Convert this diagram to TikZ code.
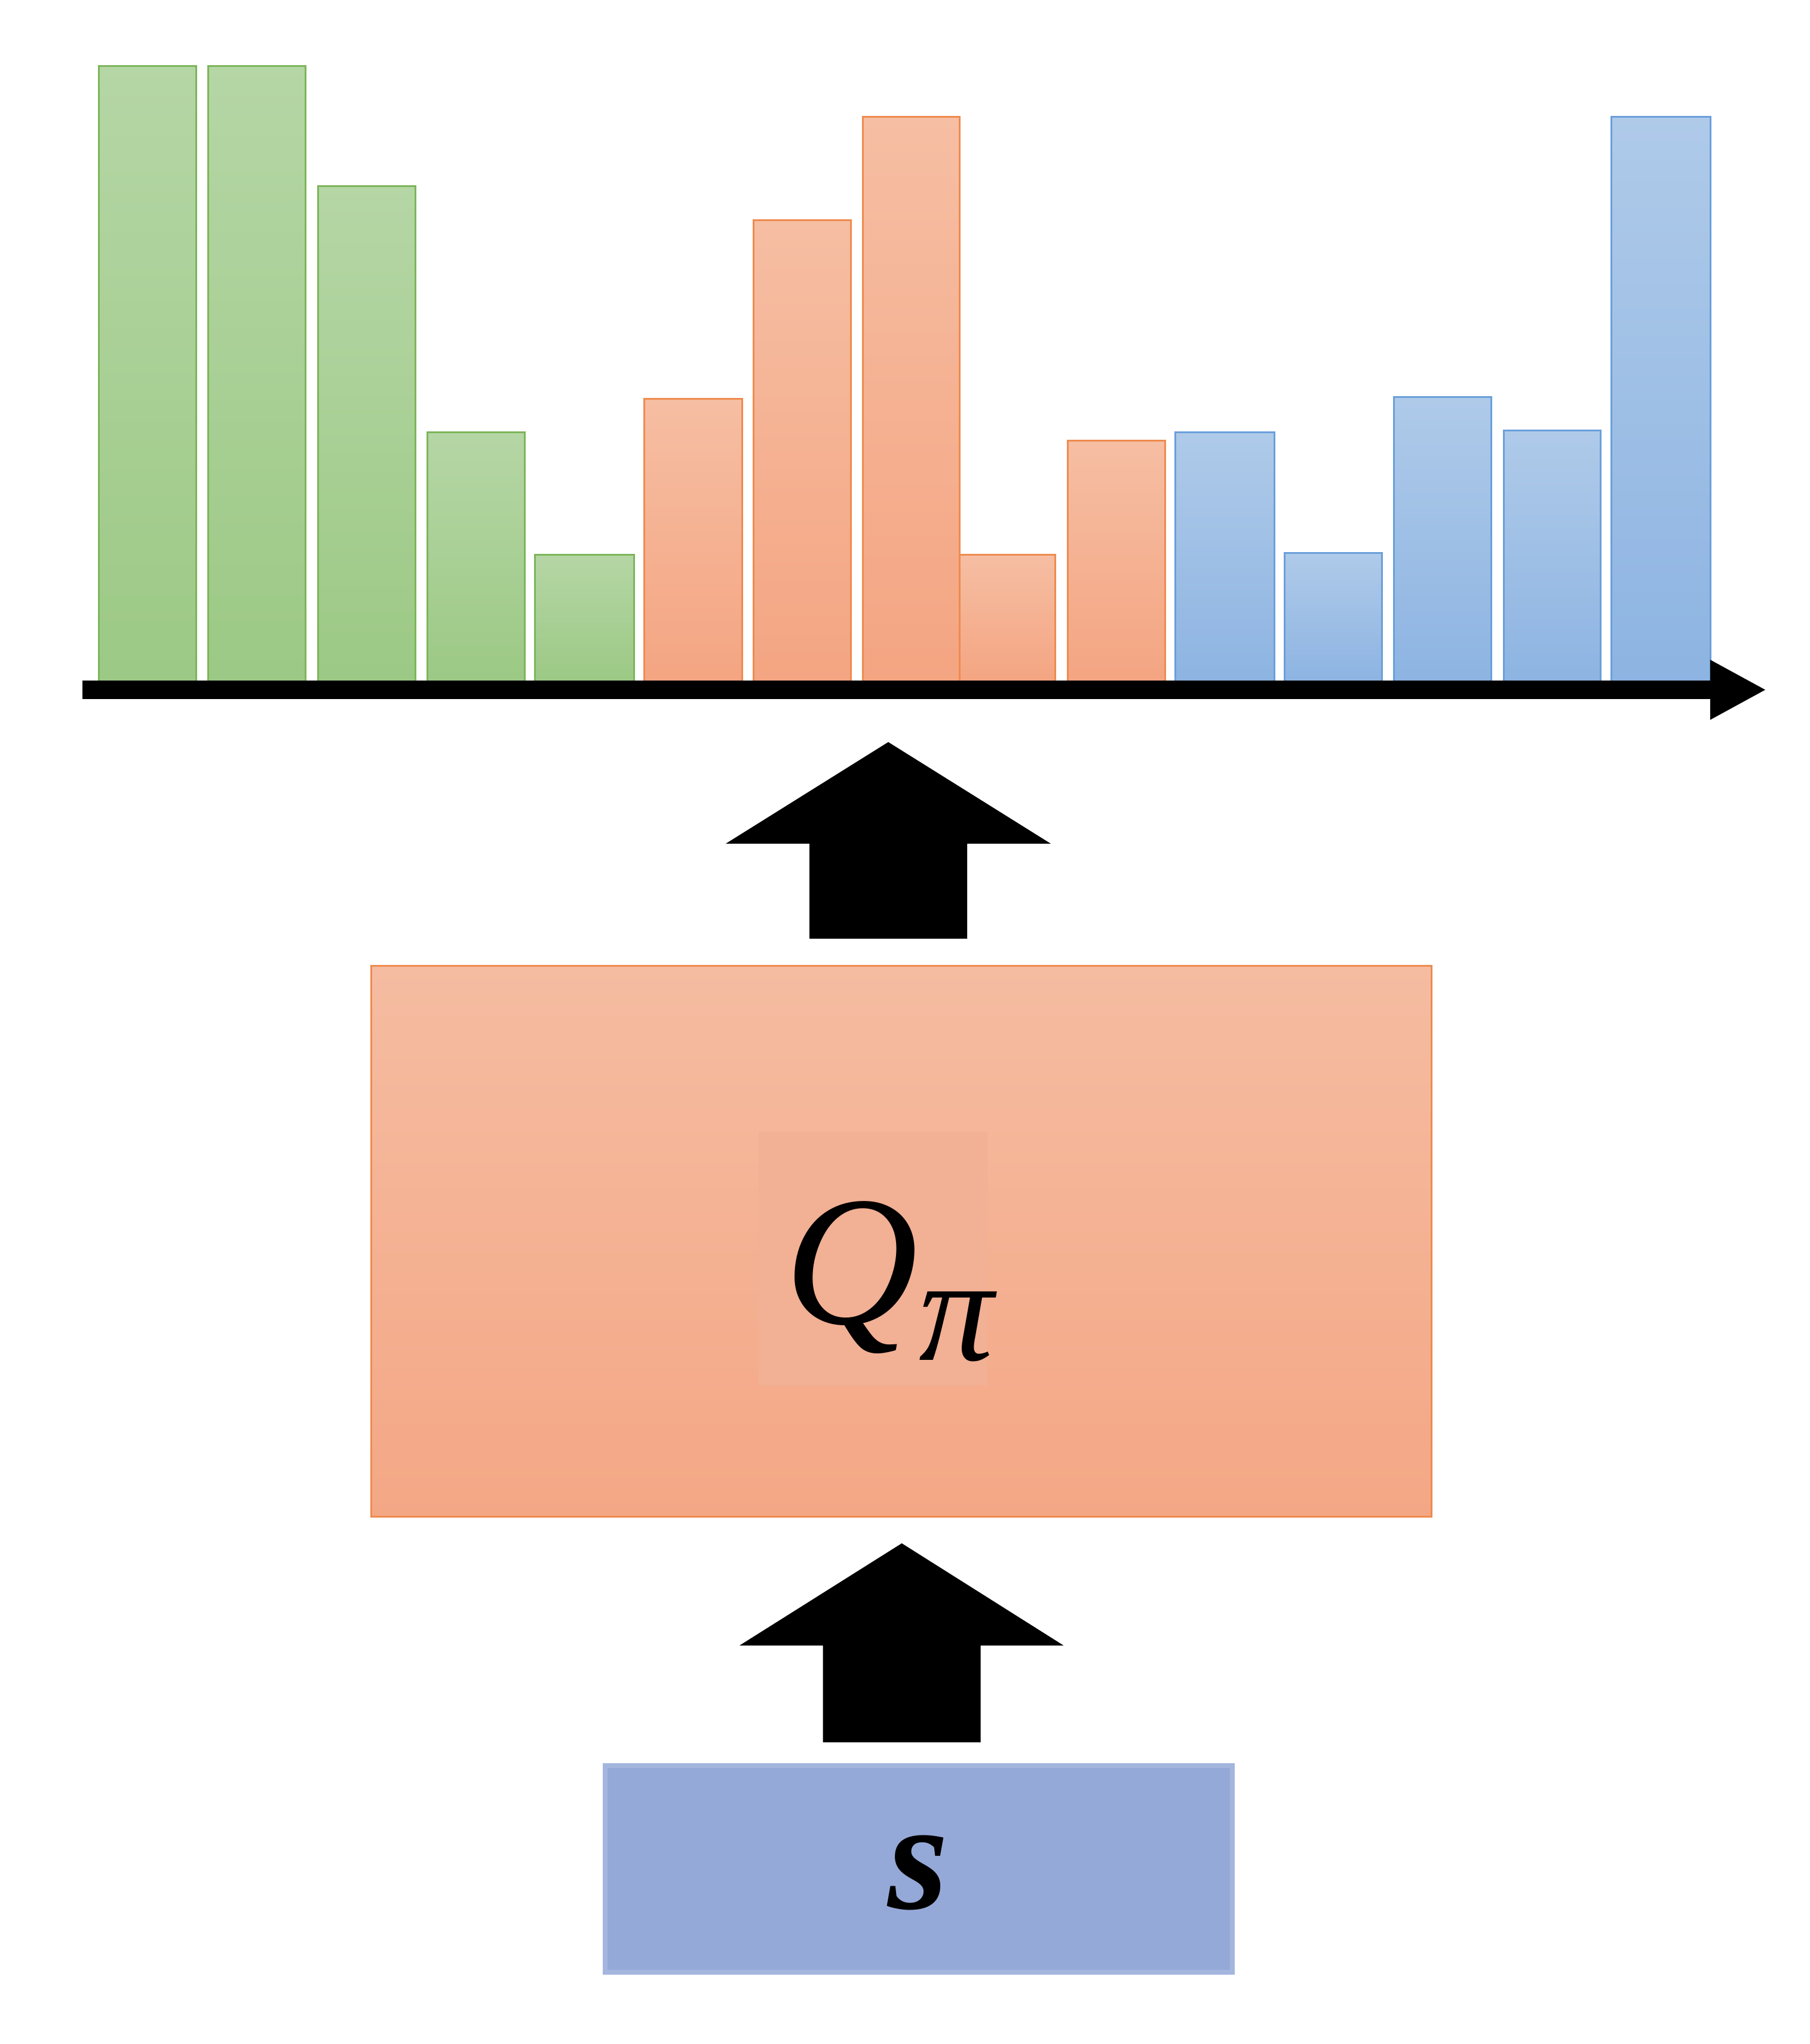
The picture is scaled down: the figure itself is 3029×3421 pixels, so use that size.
\documentclass[tikz,border=0pt]{standalone}
\usepackage{fontspec}
\newfontfamily\lblfont{Liberation Serif}
\usetikzlibrary{arrows.meta}
\definecolor{gtop}{HTML}{B5D6A5}
\definecolor{gbot}{HTML}{9CC985}
\definecolor{gline}{HTML}{7DB55A}
\definecolor{otop}{HTML}{F6BEA3}
\definecolor{obot}{HTML}{F4A582}
\definecolor{oline}{HTML}{EE8B4E}
\definecolor{btop}{HTML}{AFCAE9}
\definecolor{bbot}{HTML}{8DB4E2}
\definecolor{bline}{HTML}{6A9FDB}
\definecolor{qtop}{HTML}{F5BCA1}
\definecolor{qbot}{HTML}{F4A785}
\definecolor{qinner}{HTML}{F2B094}
\definecolor{sfill}{HTML}{95A9D8}
\definecolor{sline}{HTML}{A4B5DE}
\tikzset{
  gbar/.style={top color=gtop,bottom color=gbot,draw=gline,line width=0.03cm},
  obar/.style={top color=otop,bottom color=obot,draw=oline,line width=0.03cm},
  bbar/.style={top color=btop,bottom color=bbot,draw=bline,line width=0.03cm},
  qbox/.style={rectangle,minimum width=17.74cm,minimum height=9.21cm,inner sep=0pt,
    top color=qtop,bottom color=qbot,draw=oline,line width=0.03cm},
  sbox/.style={rectangle,minimum width=10.5cm,minimum height=3.46cm,inner sep=0pt,
    fill=sfill,draw=sline,line width=0.08cm},
  lbl/.style={inner sep=0pt,font=\lblfont\itshape},
  blockarrow/.style={fill=black},
  axisline/.style={line width=0.315cm,-{Triangle[length=0.94cm,width=0.93cm]}}
}
\begin{document}
\begin{tikzpicture}[x=0.01cm,y=-0.01cm]
\useasboundingbox (0,0) rectangle (3029,3421);
\fill[white] (0,0) rectangle (3029,3421);
% bars
\draw[gbar] (165.6,111) rectangle (328.3,1140);
\draw[gbar] (348.6,111) rectangle (511.4,1140);
\draw[gbar] (532.4,311.5) rectangle (695.2,1140);
\draw[gbar] (715.5,723) rectangle (878.3,1140);
\draw[gbar] (895.8,928) rectangle (1061.4,1140);
\draw[obar] (1078.6,667) rectangle (1242,1140);
\draw[obar] (1261.7,368) rectangle (1424.4,1140);
\draw[obar] (1444.8,196) rectangle (1606,1140);
\draw[obar] (1606,928) rectangle (1766.7,1140);
\draw[obar] (1787.8,737.5) rectangle (1950.5,1140);
\draw[bbar] (1967.4,723.7) rectangle (2133.3,1140);
\draw[bbar] (2150.6,925) rectangle (2313.3,1140);
\draw[bbar] (2333.4,664) rectangle (2496.9,1140);
\draw[bbar] (2517,720) rectangle (2679.8,1140);
\draw[bbar] (2697,196) rectangle (2863.4,1140);
% axis
\coordinate (axl) at (137.5,1154.5);
\coordinate (axr) at (2957,1154.5);
\draw[axisline] (axl) -- (axr);
% Q box
\node[qbox] (Q) at (1509,2077.5) {};
\fill[qinner] (1270,1894) rectangle (1653,2319);
\node[lbl,anchor=base east] (qlabel) at (1538,2215) {\fontsize{88}{90}\selectfont Q};
\node[lbl,anchor=base west] (qsub) at (1538,2276) {\fontsize{71}{73}\selectfont π};
% s box
\node[sbox] (s) at (1537.8,3128) {};
\node[lbl,anchor=base] (slabel) at (1537,3194) {\fontsize{74}{76}\selectfont\bfseries s};
% block arrows
\fill[blockarrow] (1355,1571) -- (1355,1412) -- (1215,1412) -- (1487,1242)
  -- (1759,1412) -- (1619,1412) -- (1619,1571) -- cycle;
\fill[blockarrow] (1377.6,2916) -- (1377.6,2754) -- (1238,2754) -- (1509.6,2583)
  -- (1780.5,2754) -- (1641.6,2754) -- (1641.6,2916) -- cycle;
\end{tikzpicture}
\end{document}
